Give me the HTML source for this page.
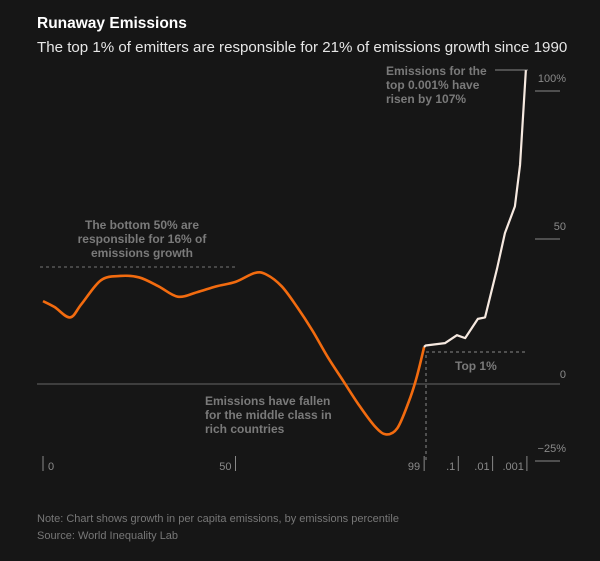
<!DOCTYPE html>
<html><head><meta charset="utf-8"><style>
html,body{margin:0;padding:0;background:#161616;width:600px;height:561px;overflow:hidden}
svg{display:block;font-family:"Liberation Sans",sans-serif}
</style></head><body>
<svg id="chart" width="600" height="561">
<text x="37" y="28" fill="#fff" font-size="15.5" font-weight="bold">Runaway Emissions</text>
<text x="37" y="52" fill="#e6e6e6" font-size="15.1">The top 1% of emitters are responsible for 21% of emissions growth since 1990</text>
<g id="axes"></g>
<g id="annot" fill="#7a7a7a" font-size="12" font-weight="bold">
<text x="386" y="75"><tspan x="386">Emissions for the</tspan><tspan x="386" dy="14">top 0.001% have</tspan><tspan x="386" dy="14">risen by 107%</tspan></text>
<line x1="495" y1="70" x2="528" y2="70" stroke="#888" stroke-width="1"/>
<text x="142" y="229" text-anchor="middle"><tspan x="142">The bottom 50% are</tspan><tspan x="142" dy="14">responsible for 16% of</tspan><tspan x="142" dy="14">emissions growth</tspan></text>
<line x1="40" y1="267" x2="236" y2="267" stroke="#777" stroke-dasharray="3,3"/>
<text x="205" y="405"><tspan x="205">Emissions have fallen</tspan><tspan x="205" dy="14">for the middle class in</tspan><tspan x="205" dy="14">rich countries</tspan></text>
<text x="455" y="370">Top 1%</text>
<polyline points="426,460 426,352 528,352" fill="none" stroke="#888" stroke-dasharray="3,3"/>
</g>
<g id="marks"></g>
<text x="37" y="522" fill="#777" font-size="11">Note: Chart shows growth in per capita emissions, by emissions percentile</text>
<text x="37" y="539" fill="#777" font-size="11">Source: World Inequality Lab</text>
</svg>
<script>
const pctCategories=[0,3,7,10,15,20,25,30,35,40,45,50,55,58,62,66,70,74,78,82,86,89,92,95,97,99];
const pctValues=[28,26,22.5,27,35,36.5,36,33,29.5,31,33,34.5,37.5,37,33,26,18,9,1,-7,-14,-17,-15,-6,2,12.5];
const topCategories=[0,0.05,0.61,0.96,1.2,1.57,1.78,2.13,2.36,2.65,2.8,2.97];
const topValues=[12.5,13,13.8,16.5,15.5,22,22.5,39,51,60,74,106];
const yTicks=[100,50,0,-25];
const yTickLabels=["100%","50","0","\u221225%"];
const xTicks=[0,50,99];
const topTicks=[1,2,3];
const topTickLabels=[".1",".01",".001"];

const NS="http://www.w3.org/2000/svg";
const y=v=>384-v*2.96;
const xp=p=>43+p*3.85;
const xt=u=>424+u*34.3;
function mk(tag,attrs,parent){const e=document.createElementNS(NS,tag);for(const k in attrs)e.setAttribute(k,attrs[k]);parent.appendChild(e);return e;}
function smooth(pts){let d=`M${pts[0][0]},${pts[0][1]}`;for(let i=0;i<pts.length-1;i++){const p0=pts[i-1]||pts[i],p1=pts[i],p2=pts[i+1],p3=pts[i+2]||p2;const c1=[p1[0]+(p2[0]-p0[0])/6,p1[1]+(p2[1]-p0[1])/6],c2=[p2[0]-(p3[0]-p1[0])/6,p2[1]-(p3[1]-p1[1])/6];d+=` C${c1[0]},${c1[1]} ${c2[0]},${c2[1]} ${p2[0]},${p2[1]}`;}return d;}
const axes=document.getElementById('axes'),marks=document.getElementById('marks');
const zl=mk('line',{x1:37,x2:560,y1:y(0),y2:y(0),stroke:'#666','stroke-width':1},axes);


yTicks.forEach((t,i)=>{
  const l=mk('line',{x1:535,x2:560,y1:y(t)+3,y2:y(t)+3,stroke:'#888'},axes);
  if(t===0)l.setAttribute('stroke','none');
  
  
  const tx=mk('text',{x:566,y:y(t)-6,'text-anchor':'end',fill:'#8a8a8a','font-size':11},axes);
  tx.textContent=yTickLabels[i];
  
  
});
xTicks.forEach(t=>{
  const x=xp(t);
  const l=mk('line',{x1:x,x2:x,y1:456,y2:471,stroke:'#888'},axes);
  
  
  const tx=mk('text',{x:t===0?x+5:x-4,y:470,'text-anchor':t===0?'start':'end',fill:'#8a8a8a','font-size':11},axes);
  tx.textContent=String(t);
  
  
});
topTicks.forEach((t,i)=>{
  const x=xt(t);
  const l=mk('line',{x1:x,x2:x,y1:456,y2:471,stroke:'#888'},axes);
  
  
  const tx=mk('text',{x:x-3,y:470,'text-anchor':'end',fill:'#8a8a8a','font-size':11},axes);
  tx.textContent=topTickLabels[i];
  
  
});
const op=mk('path',{d:smooth(pctCategories.map((p,i)=>[xp(p),y(pctValues[i])])),fill:'none',stroke:'#f26b0f','stroke-width':2.6},marks);


const wp=mk('path',{d:'M'+topCategories.map((u,i)=>xt(u)+','+y(topValues[i])).join(' L'),fill:'none',stroke:'#f6e9e0','stroke-width':2.2,'stroke-linejoin':'round'},marks);


</script>
</body></html>
